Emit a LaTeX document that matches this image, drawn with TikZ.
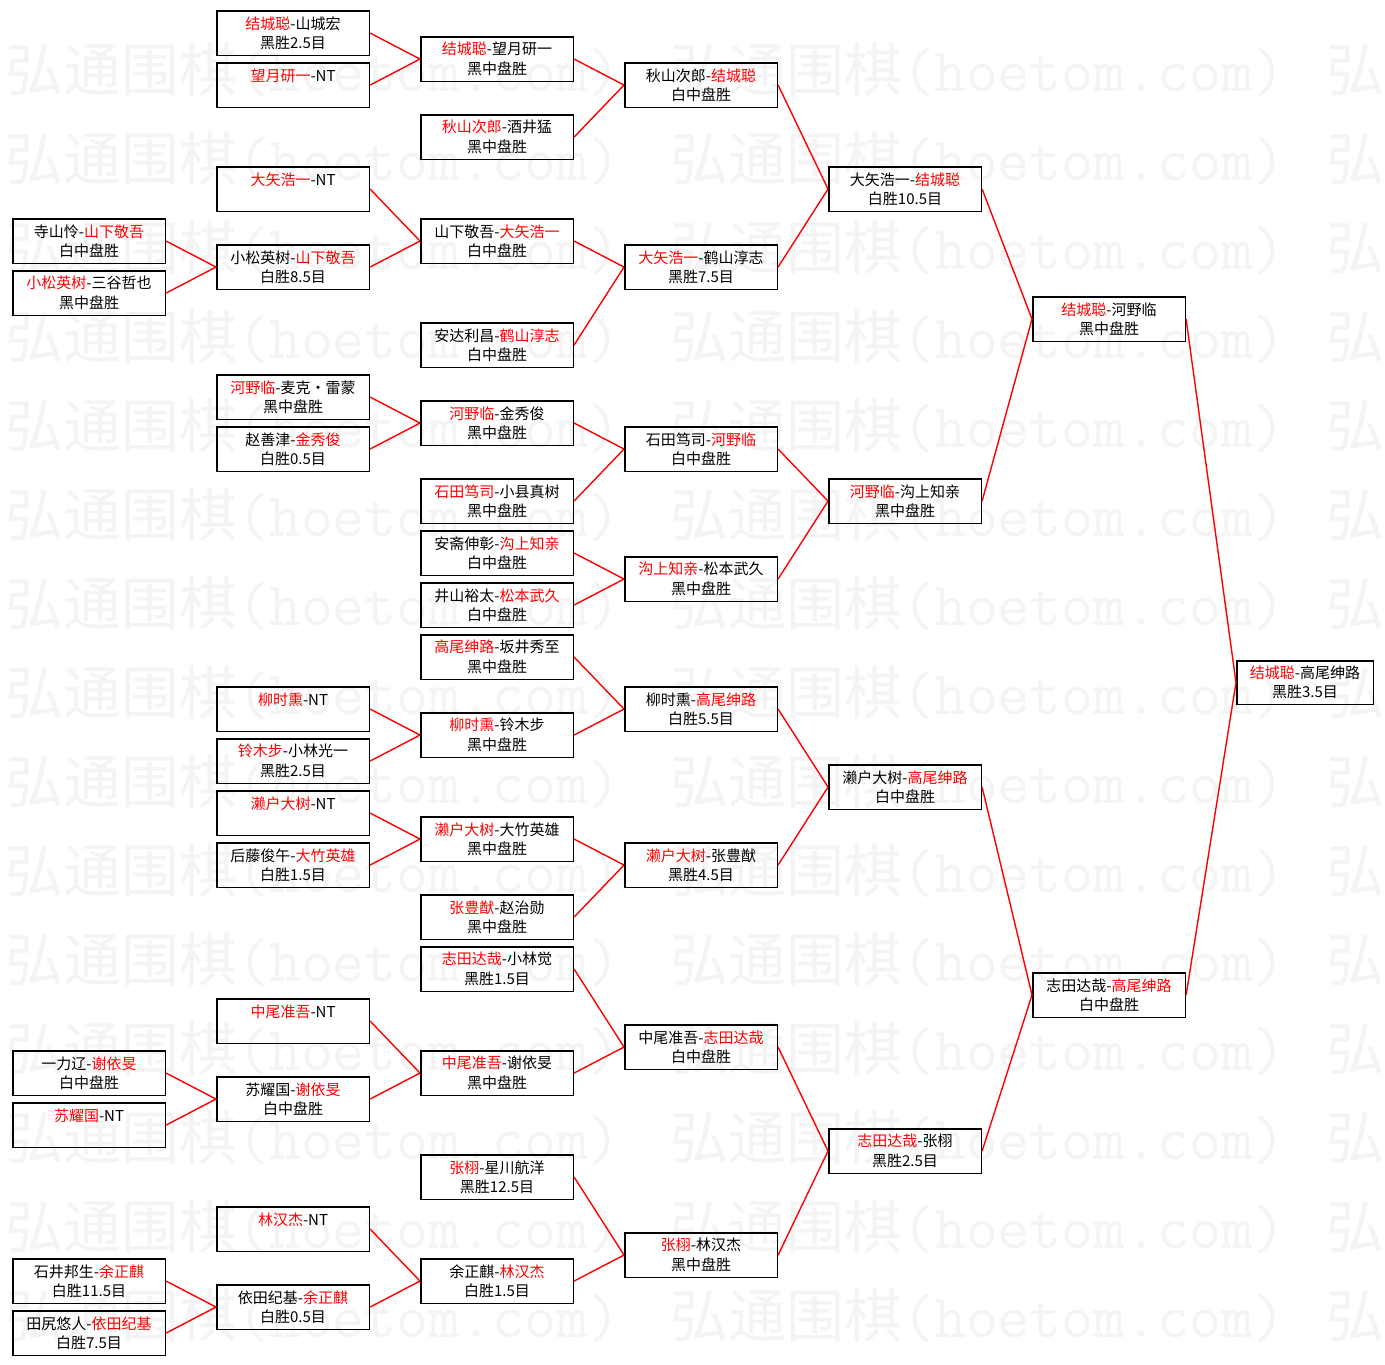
\documentclass[tikz,border=0pt]{standalone}
\usepackage{fontspec}
\setmainfont{Noto Sans CJK SC}
\definecolor{markgray}{gray}{0.955}
\newcommand{\winner}[1]{\textcolor{red}{#1}}

\begin{document}
\begin{tikzpicture}
  [x=1pt,y=-1pt,
   matchN/.style={rectangle,draw,line width=1.6pt,anchor=north west,
     minimum width=152.5pt,minimum height=44.5pt,inner sep=0pt,align=center,
     font=\fontsize{15}{19.5}\selectfont,
     execute at begin node=\rule{0pt}{21pt}},
   finalN/.style={matchN,minimum width=136.5pt,minimum height=43.5pt},
   markN/.style={anchor=base west,inner sep=0pt,text=markgray,
     font=\fontsize{58}{60}\selectfont},
   link/.style={red,line width=1.4pt}]

  \path[use as bounding box,fill=white] (0,0) rectangle (1385,1365);

  % watermark
  \foreach \k in {0,...,14} {
    \foreach \j in {0,1}
      \node[markN] (wm-\k-\j) at ({5+665*\j},{91+89*\k})
        {弘通围棋{\ttfamily\fontsize{62}{64}\selectfont(hoetom.com)}};
    \node[markN] (wm-\k-2) at (1326,{91+89*\k}) {弘};
  }

  % first round
  \node[matchN] (a1) at (12,218)  {寺山怜-\winner{山下敬吾}\\白中盘胜};
  \node[matchN] (a2) at (12,270)  {\winner{小松英树}-三谷哲也\\黑中盘胜};
  \node[matchN] (a3) at (12,1050) {一力辽-\winner{谢依旻}\\白中盘胜};
  \node[matchN] (a4) at (12,1102) {\winner{苏耀国}-NT\\\mbox{}};
  \node[matchN] (a5) at (12,1258) {石井邦生-\winner{余正麒}\\白胜11.5目};
  \node[matchN] (a6) at (12,1310) {田尻悠人-\winner{依田纪基}\\白胜7.5目};

  % second round
  \node[matchN] (b1)  at (216,10)   {\winner{结城聪}-山城宏\\黑胜2.5目};
  \node[matchN] (b2)  at (216,62)   {\winner{望月研一}-NT\\\mbox{}};
  \node[matchN] (b3)  at (216,166)  {\winner{大矢浩一}-NT\\\mbox{}};
  \node[matchN] (b4)  at (216,244)  {小松英树-\winner{山下敬吾}\\白胜8.5目};
  \node[matchN] (b5)  at (216,374)  {\winner{河野临}-麦克・雷蒙\\黑中盘胜};
  \node[matchN] (b6)  at (216,426)  {赵善津-\winner{金秀俊}\\白胜0.5目};
  \node[matchN] (b7)  at (216,686)  {\winner{柳时熏}-NT\\\mbox{}};
  \node[matchN] (b8)  at (216,738)  {\winner{铃木步}-小林光一\\黑胜2.5目};
  \node[matchN] (b9)  at (216,790)  {\winner{濑户大树}-NT\\\mbox{}};
  \node[matchN] (b10) at (216,842)  {后藤俊午-\winner{大竹英雄}\\白胜1.5目};
  \node[matchN] (b11) at (216,998)  {\winner{中尾准吾}-NT\\\mbox{}};
  \node[matchN] (b12) at (216,1076) {苏耀国-\winner{谢依旻}\\白中盘胜};
  \node[matchN] (b13) at (216,1206) {\winner{林汉杰}-NT\\\mbox{}};
  \node[matchN] (b14) at (216,1284) {依田纪基-\winner{余正麒}\\白胜0.5目};

  % third round
  \node[matchN] (c1)  at (420,36)   {\winner{结城聪}-望月研一\\黑中盘胜};
  \node[matchN] (c2)  at (420,114)  {\winner{秋山次郎}-酒井猛\\黑中盘胜};
  \node[matchN] (c3)  at (420,218)  {山下敬吾-\winner{大矢浩一}\\白中盘胜};
  \node[matchN] (c4)  at (420,322)  {安达利昌-\winner{鹤山淳志}\\白中盘胜};
  \node[matchN] (c5)  at (420,400)  {\winner{河野临}-金秀俊\\黑中盘胜};
  \node[matchN] (c6)  at (420,478)  {\winner{石田笃司}-小县真树\\黑中盘胜};
  \node[matchN] (c7)  at (420,530)  {安斋伸彰-\winner{沟上知亲}\\白中盘胜};
  \node[matchN] (c8)  at (420,582)  {井山裕太-\winner{松本武久}\\白中盘胜};
  \node[matchN] (c9)  at (420,634)  {\winner{高尾绅路}-坂井秀至\\黑中盘胜};
  \node[matchN] (c10) at (420,712)  {\winner{柳时熏}-铃木步\\黑中盘胜};
  \node[matchN] (c11) at (420,816)  {\winner{濑户大树}-大竹英雄\\黑中盘胜};
  \node[matchN] (c12) at (420,894)  {\winner{张豊猷}-赵治勋\\黑中盘胜};
  \node[matchN] (c13) at (420,946)  {\winner{志田达哉}-小林觉\\黑胜1.5目};
  \node[matchN] (c14) at (420,1050) {\winner{中尾准吾}-谢依旻\\黑中盘胜};
  \node[matchN] (c15) at (420,1154) {\winner{张栩}-星川航洋\\黑胜12.5目};
  \node[matchN] (c16) at (420,1258) {余正麒-\winner{林汉杰}\\白胜1.5目};

  % last 16
  \node[matchN] (d1) at (624,62)   {秋山次郎-\winner{结城聪}\\白中盘胜};
  \node[matchN] (d2) at (624,244)  {\winner{大矢浩一}-鹤山淳志\\黑胜7.5目};
  \node[matchN] (d3) at (624,426)  {石田笃司-\winner{河野临}\\白中盘胜};
  \node[matchN] (d4) at (624,556)  {\winner{沟上知亲}-松本武久\\黑中盘胜};
  \node[matchN] (d5) at (624,686)  {柳时熏-\winner{高尾绅路}\\白胜5.5目};
  \node[matchN] (d6) at (624,842)  {\winner{濑户大树}-张豊猷\\黑胜4.5目};
  \node[matchN] (d7) at (624,1024) {中尾准吾-\winner{志田达哉}\\白中盘胜};
  \node[matchN] (d8) at (624,1232) {\winner{张栩}-林汉杰\\黑中盘胜};

  % quarter, semi, final
  \node[matchN] (e1) at (828,166)  {大矢浩一-\winner{结城聪}\\白胜10.5目};
  \node[matchN] (e2) at (828,478)  {\winner{河野临}-沟上知亲\\黑中盘胜};
  \node[matchN] (e3) at (828,764)  {濑户大树-\winner{高尾绅路}\\白中盘胜};
  \node[matchN] (e4) at (828,1128) {\winner{志田达哉}-张栩\\黑胜2.5目};

  \node[matchN] (f1) at (1032,296) {\winner{结城聪}-河野临\\黑中盘胜};
  \node[matchN] (f2) at (1032,972) {志田达哉-\winner{高尾绅路}\\白中盘胜};

  \node[finalN] (g1) at (1236,660) {\winner{结城聪}-高尾绅路\\黑胜3.5目};

  \draw[link] (a1.east) -- (b4.west) (a2.east) -- (b4.west);
  \draw[link] (a3.east) -- (b12.west) (a4.east) -- (b12.west);
  \draw[link] (a5.east) -- (b14.west) (a6.east) -- (b14.west);

  \draw[link] (b1.east) -- (c1.west) (b2.east) -- (c1.west);
  \draw[link] (b3.east) -- (c3.west) (b4.east) -- (c3.west);
  \draw[link] (b5.east) -- (c5.west) (b6.east) -- (c5.west);
  \draw[link] (b7.east) -- (c10.west) (b8.east) -- (c10.west);
  \draw[link] (b9.east) -- (c11.west) (b10.east) -- (c11.west);
  \draw[link] (b11.east) -- (c14.west) (b12.east) -- (c14.west);
  \draw[link] (b13.east) -- (c16.west) (b14.east) -- (c16.west);

  \draw[link] (c1.east) -- (d1.west) (c2.east) -- (d1.west);
  \draw[link] (c3.east) -- (d2.west) (c4.east) -- (d2.west);
  \draw[link] (c5.east) -- (d3.west) (c6.east) -- (d3.west);
  \draw[link] (c7.east) -- (d4.west) (c8.east) -- (d4.west);
  \draw[link] (c9.east) -- (d5.west) (c10.east) -- (d5.west);
  \draw[link] (c11.east) -- (d6.west) (c12.east) -- (d6.west);
  \draw[link] (c13.east) -- (d7.west) (c14.east) -- (d7.west);
  \draw[link] (c15.east) -- (d8.west) (c16.east) -- (d8.west);

  \draw[link] (d1.east) -- (e1.west) (d2.east) -- (e1.west);
  \draw[link] (d3.east) -- (e2.west) (d4.east) -- (e2.west);
  \draw[link] (d5.east) -- (e3.west) (d6.east) -- (e3.west);
  \draw[link] (d7.east) -- (e4.west) (d8.east) -- (e4.west);

  \draw[link] (e1.east) -- (f1.west) (e2.east) -- (f1.west);
  \draw[link] (e3.east) -- (f2.west) (e4.east) -- (f2.west);

  \draw[link] (f1.east) -- (g1.west) (f2.east) -- (g1.west);

\end{tikzpicture}
\end{document}
